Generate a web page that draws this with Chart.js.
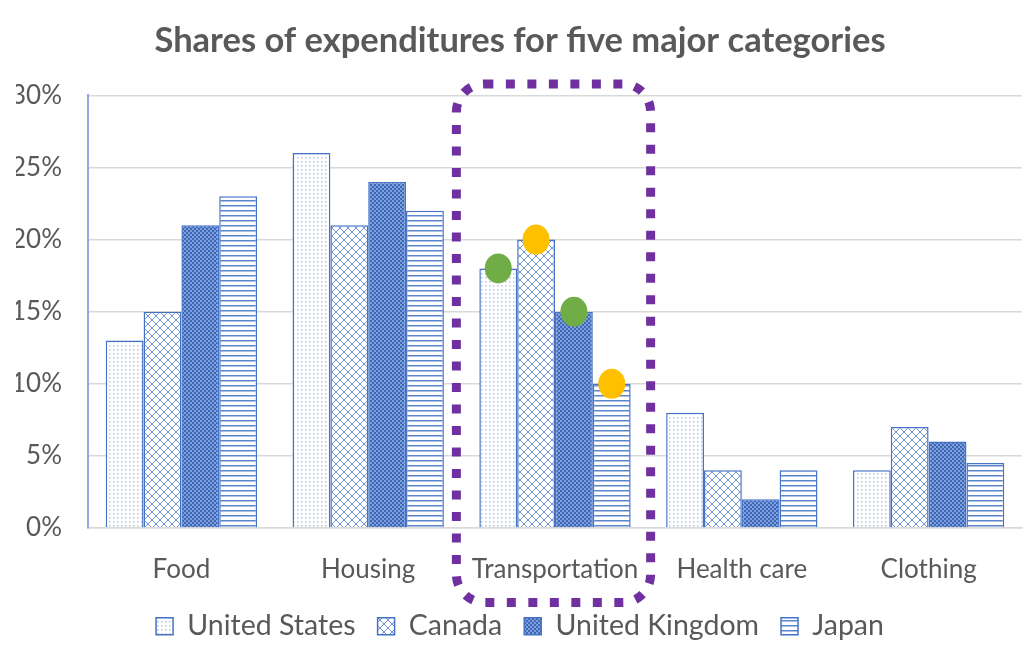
<!DOCTYPE html>
<html>
<head>
<meta charset="utf-8">
<script src="https://cdn.jsdelivr.net/npm/chart.js@4"></script>
<style>
html,body{margin:0;padding:0;background:#fff;}
#wrap{width:1024px;height:667px;}
</style>
</head>
<body>
<div id="wrap"><canvas id="c" width="1024" height="667"></canvas></div>
<script>
const categories = ['Food', 'Housing', 'Transportation', 'Health care', 'Clothing'];
const unitedStates = [13, 26, 18, 8, 4];
const canada = [15, 21, 20, 4, 7];
const unitedKingdom = [21, 24, 15, 2, 6];
const japan = [23, 22, 10, 4, 4.5];
const yTicks = [0, 5, 10, 15, 20, 25, 30];
const seriesNames = ['United States', 'Canada', 'United Kingdom', 'Japan'];
// highlighted points in Transportation: [datasetIndex, colour]
const highlights = [[0, '#70AD47'], [1, '#FFC000'], [2, '#70AD47'], [3, '#FFC000']];
const highlightCategory = 2;

const BLUE = '#4472C4';
const FONT = 'Lato, "Open Sans", sans-serif';

function makePattern(kind) {
  const c = document.createElement('canvas');
  const x = c.getContext('2d');
  if (kind === 'dots') {
    c.width = 4; c.height = 4;
    x.fillStyle = '#ffffff'; x.fillRect(0, 0, 4, 4);
    x.fillStyle = '#b4c6e7'; x.fillRect(1, 1, 1.5, 1.5);
  } else if (kind === 'cross') {
    c.width = 8; c.height = 8;
    x.fillStyle = '#ffffff'; x.fillRect(0, 0, 8, 8);
    x.strokeStyle = '#6f93d3'; x.lineWidth = 1;
    x.beginPath();
    x.moveTo(0, 0); x.lineTo(8, 8);
    x.moveTo(8, 0); x.lineTo(0, 8);
    x.stroke();
  } else if (kind === 'darkdots') {
    c.width = 4; c.height = 4;
    x.fillStyle = BLUE; x.fillRect(0, 0, 4, 4);
    x.fillStyle = '#7f9fdc'; x.fillRect(0, 0, 2, 2); x.fillRect(2, 2, 2, 2);
    x.fillStyle = '#3d68b8'; x.fillRect(2, 0, 2, 2); x.fillRect(0, 2, 2, 2);
  } else {
    c.width = 6; c.height = 5;
    x.fillStyle = '#ffffff'; x.fillRect(0, 0, 6, 5);
    x.fillStyle = '#5a84cc'; x.fillRect(0, 0, 6, 1.5);
  }
  return x.createPattern(c, 'repeat');
}

const ctx = document.getElementById('c').getContext('2d');
const patterns = [makePattern('dots'), makePattern('cross'), makePattern('darkdots'), makePattern('lines')];
const seriesData = [unitedStates, canada, unitedKingdom, japan];

const annotationPlugin = {
  id: 'annot',
  afterDatasetsDraw(chart) {
    const c = chart.ctx;
    highlights.forEach(([di, col]) => {
      const el = chart.getDatasetMeta(di).data[highlightCategory];
      c.save();
      c.fillStyle = col;
      c.beginPath();
      c.ellipse(el.x, el.y, 13.5, 15, 0, 0, Math.PI * 2);
      c.fill();
      c.restore();
    });
  },
  afterDraw(chart) {
    const c = chart.ctx;
    const xs = chart.scales.x;
    const cx = xs.getPixelForValue(highlightCategory) - 1.5;
    const catW = xs.width / categories.length;
    const half = catW * 0.52;
    const left = cx - half, right = cx + half;
    const top = chart.chartArea.top - 11.5;
    const bottom = chart.chartArea.bottom + 74.5;
    const r = 28;
    c.save();
    c.strokeStyle = '#7030A0';
    c.lineWidth = 9;
    c.setLineDash([9, 12.5]);
    c.beginPath();
    c.roundRect(left, top, right - left, bottom - top, r);
    c.stroke();
    c.restore();
  }
};

new Chart(ctx, {
  type: 'bar',
  data: {
    labels: categories,
    datasets: seriesNames.map((n, i) => ({
      label: n,
      data: seriesData[i],
      backgroundColor: patterns[i],
      borderColor: BLUE,
      borderWidth: 1.5,
      categoryPercentage: 0.81,
      barPercentage: 1.0
    }))
  },
  options: {
    responsive: false,
    animation: false,
    layout: { padding: { left: 16, right: 0, top: 8, bottom: 16.5 } },
    plugins: {
      title: {
        display: true,
        text: 'Shares of expenditures for five major categories',
        color: '#595959',
        font: { family: FONT, size: 34.5, weight: 'bold' },
        padding: { top: 12, bottom: 34 }
      },
      legend: {
        position: 'bottom',
        labels: {
          color: '#595959',
          font: { family: FONT, size: 28.5 },
          boxWidth: 17,
          boxHeight: 17,
          padding: 22
        }
      },
      tooltip: { enabled: false }
    },
    scales: {
      x: {
        grid: { display: false },
        border: { color: '#d9d9d9', width: 1.5 },
        ticks: { color: '#595959', font: { family: FONT, size: 26 }, padding: 18, maxRotation: 0, autoSkip: false },
        afterFit(scale) { scale.height = 62; }
      },
      y: {
        min: 0, max: 30,
        afterBuildTicks(scale) { scale.ticks = yTicks.map(v => ({ value: v })); },
        afterFit(scale) { scale.width = 72; },
        grid: { color: '#d9d9d9', lineWidth: 1.5, drawTicks: false },
        border: { color: '#8faadc', width: 2 },
        ticks: {
          color: '#595959',
          font: { family: FONT, size: 26 },
          padding: 26,
          callback: v => v + '%'
        }
      },
      yRight: {
        position: 'right',
        display: true,
        afterFit(scale) { scale.width = 2; },
        grid: { display: false, drawTicks: false },
        border: { display: false },
        ticks: { display: false }
      }
    }
  },
  plugins: [annotationPlugin]
});
</script>
</body>
</html>
